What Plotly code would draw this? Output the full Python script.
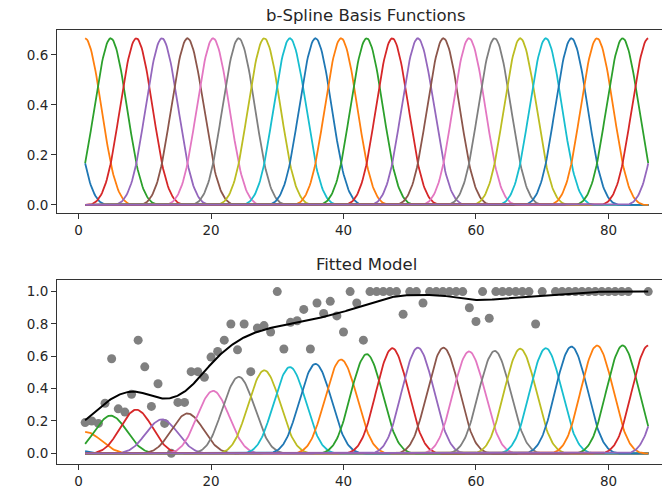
import numpy as np
import plotly.graph_objects as go

# ---------------- data ----------------
x_obs = list(range(1, 71)) + list(range(72, 84)) + [86]
y_obs = [0.19, 0.20, 0.185, 0.31, 0.585, 0.275, 0.255, 0.365, 0.70, 0.535,
         0.29, 0.43, 0.185, 0.0, 0.315, 0.315, 0.505, 0.505, 0.47, 0.595,
         0.63, 0.70, 0.80, 0.64, 0.80, 0.505, 0.775, 0.79, 0.75, 1.0,
         0.645, 0.81, 0.82, 0.89, 0.645, 0.93, 0.865, 0.94, 0.85, 0.75,
         1.0, 0.93, 0.70, 1.0, 1.0, 1.0, 1.0, 1.0, 0.86, 1.0,
         1.0, 0.93, 1.0, 1.0, 1.0, 1.0, 1.0, 1.0, 0.90, 0.815,
         1.0, 0.835, 1.0, 1.0, 1.0, 1.0, 1.0, 1.0, 0.80, 1.0,
         1.0, 1.0, 1.0, 1.0, 1.0, 1.0, 1.0, 1.0, 1.0, 1.0, 1.0, 1.0,
         1.0]

# fitted spline coefficients (one per basis function)
coefs = [0.08, 0.20, 0.35, 0.405, 0.315, 0.37, 0.58, 0.71, 0.77, 0.80,
         0.83, 0.87, 0.92, 0.975, 0.98, 0.98, 0.945, 0.95, 0.97, 0.975,
         0.99, 1.0, 1.0, 1.0, 1.0]

x_min, x_max = 1, 86
n_intervals = 22
x_ticks = [0, 20, 40, 60, 80]
top_y_ticks = [0.0, 0.2, 0.4, 0.6]
bot_y_ticks = [0.0, 0.2, 0.4, 0.6, 0.8, 1.0]

colors = ['#1f77b4', '#ff7f0e', '#2ca02c', '#d62728', '#9467bd',
          '#8c564b', '#e377c2', '#7f7f7f', '#bcbd22', '#17becf']

# ---------------- cubic b-spline basis (uniform knots) ----------------
h = (x_max - x_min) / n_intervals
knots = x_min + (np.arange(n_intervals + 7) - 3) * h
xs = np.linspace(x_min, x_max, 600)


def bspline(x, t0):
    u = (x - t0) / h
    out = np.zeros_like(x)
    m = (u >= 0) & (u < 1)
    out[m] = u[m] ** 3 / 6
    m = (u >= 1) & (u < 2)
    out[m] = (-3 * u[m] ** 3 + 12 * u[m] ** 2 - 12 * u[m] + 4) / 6
    m = (u >= 2) & (u < 3)
    out[m] = (3 * u[m] ** 3 - 24 * u[m] ** 2 + 60 * u[m] - 44) / 6
    m = (u >= 3) & (u <= 4)
    out[m] = (4 - u[m]) ** 3 / 6
    return out


n_basis = len(coefs)
basis = [bspline(xs, knots[k]) for k in range(n_basis)]

fig = go.Figure()

# top panel
for k in range(n_basis):
    fig.add_trace(go.Scatter(x=xs, y=basis[k], mode='lines',
                             line=dict(color=colors[k % 10], width=1.8),
                             xaxis='x', yaxis='y', showlegend=False))

# bottom panel
fig.add_trace(go.Scatter(x=x_obs, y=y_obs, mode='markers',
                         marker=dict(color='#808080', size=9),
                         xaxis='x2', yaxis='y2', showlegend=False))
fit = np.zeros_like(xs)
for k in range(n_basis):
    w = coefs[k] * basis[k]
    fit = fit + w
    fig.add_trace(go.Scatter(x=xs, y=w, mode='lines',
                             line=dict(color=colors[k % 10], width=1.8),
                             xaxis='x2', yaxis='y2', showlegend=False))
fig.add_trace(go.Scatter(x=xs, y=fit, mode='lines',
                         line=dict(color='black', width=2),
                         xaxis='x2', yaxis='y2', showlegend=False))

axis_common = dict(showgrid=False, zeroline=False, showline=True,
                   linecolor='#333333', linewidth=1, ticks='outside',
                   ticklen=5, tickwidth=1, tickcolor='#333333', automargin=False,
                   tickfont=dict(family='DejaVu Sans', size=13.5, color='#262626'))

top_dom = [0.578, 1.0]
bot_dom = [0.0, 0.424]

fig.update_layout(
    width=662, height=490,
    margin=dict(l=57, r=0, t=30, b=26),
    paper_bgcolor='white', plot_bgcolor='white',
    xaxis=dict(domain=[0, 1], range=[-3.25, 88.08], anchor='y',
               tickvals=x_ticks, mirror=True, **axis_common),
    yaxis=dict(domain=top_dom, range=[-0.0333, 0.7], anchor='x',
               tickvals=top_y_ticks, tickformat='.1f', **axis_common),
    xaxis2=dict(domain=[0, 1], range=[-3.25, 88.08], anchor='y2',
                tickvals=x_ticks, mirror=True, **axis_common),
    yaxis2=dict(domain=bot_dom, range=[-0.066, 1.072], anchor='x2',
                tickvals=bot_y_ticks, tickformat='.1f', **axis_common),
    annotations=[
        dict(text='b-Spline Basis Functions', xref='paper', yref='paper',
             x=0.511, y=top_dom[1], yshift=15, xanchor='center', yanchor='middle',
             showarrow=False, font=dict(family='DejaVu Sans', size=16.5, color='#262626')),
        dict(text='Fitted Model', xref='paper', yref='paper',
             x=0.511, y=bot_dom[1], yshift=15, xanchor='center', yanchor='middle',
             showarrow=False, font=dict(family='DejaVu Sans', size=16.5, color='#262626')),
    ],
)

fig.write_html('out.html', config={'displayModeBar': False},
               post_script="document.body.style.margin='0';document.body.style.overflow='hidden';")
